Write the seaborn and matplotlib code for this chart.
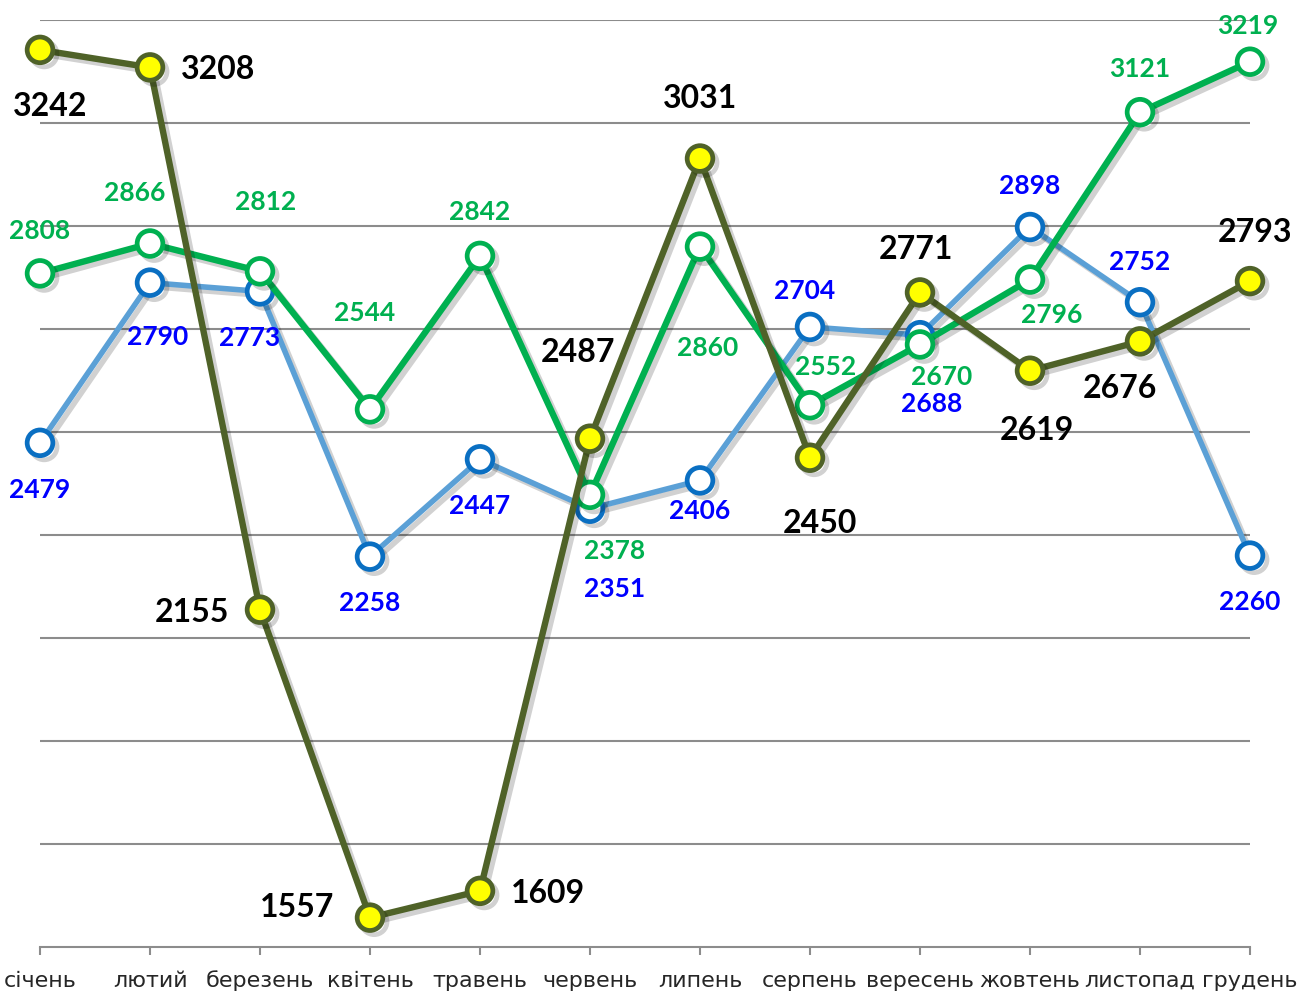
import matplotlib
matplotlib.use("Agg")
import matplotlib.pyplot as plt
import matplotlib.patheffects as pe
import seaborn as sns
import pandas as pd
import numpy as np

months = ["січень", "лютий", "березень", "квітень", "травень", "червень",
          "липень", "серпень", "вересень", "жовтень", "листопад", "грудень"]
blue_vals = [2479, 2790, 2773, 2258, 2447, 2351, 2406, 2704, 2688, 2898, 2752, 2260]
green_vals = [2808, 2866, 2812, 2544, 2842, 2378, 2860, 2552, 2670, 2796, 3121, 3219]
olive_vals = [3242, 3208, 2155, 1557, 1609, 2487, 3031, 2450, 2771, 2619, 2676, 2793]

# label offsets in pixels (dx, dy) relative to each point
blue_off = [(0, -47), (8, -54), (-10, -47), (0, -46), (0, -47), (25, -80), (0, -31), (-5, 36),
            (12, -69), (0, 41), (0, 40), (0, -46)]
green_off = [(0, 42), (-15, 51), (6, 69), (-5, 96), (0, 44), (25, -56), (8, -101), (16, 38),
             (22, -33), (22, -35), (0, 43), (-2, 36)]
olive_off = [(10, -57), (68, -2), (-68, -3), (-73, 10), (68, -3), (-12, 86), (0, 60), (10, -66),
             (-4, 43), (7, -60), (-20, -47), (5, 49)]

sns.set_theme(style="white")
plt.rcParams['font.family'] = ['Lato', 'DejaVu Sans']

fig = plt.figure(figsize=(13.08, 9.94), dpi=100)
ax = fig.add_axes([40 / 1308, 47 / 994, 1210 / 1308, 927 / 994])

x = np.arange(len(months))
shadow = [pe.SimpleLineShadow(offset=(3, -3), alpha=0.18, shadow_color="black"), pe.Normal()]

series = [
    (blue_vals, "#5BA0D6", "white", "#0A6FC2", "#0000FF", blue_off, 19, 4.0),
    (green_vals, "#00B050", "white", "#00B050", "#00B050", green_off, 19, 4.6),
    (olive_vals, "#4F6228", "#FFFF00", "#4F6228", "black", olive_off, 23, 4.6),
]

for vals, lc, mfc, mec, tc, offs, fs, lw in series:
    df = pd.DataFrame({"x": x, "y": vals})
    sns.lineplot(data=df, x="x", y="y", ax=ax, color=lc, linewidth=lw, marker="o",
                 markersize=18.5, markerfacecolor=mfc, markeredgecolor=mec,
                 markeredgewidth=3.4, sort=False, path_effects=shadow)
    for xi, v, (dx, dy) in zip(x, vals, offs):
        ax.annotate(str(v), (xi, v), xytext=(dx, dy), textcoords="offset pixels",
                    ha="center", va="center", fontsize=fs, fontweight="bold", color=tc,
                    zorder=10, annotation_clip=False)

for ln in ax.lines:
    ln.set_clip_on(False)

ax.set_xlim(0, 11)
ax.set_ylim(1500, 3300)
ax.set_yticks(np.arange(1700, 3301, 200))
ax.yaxis.grid(True, color="#8C8C8C", linewidth=1.5)
ax.set_axisbelow(True)
ax.tick_params(axis="y", left=False, labelleft=False)
ax.set_xticks(x)
ax.set_xticklabels(months, fontsize=16, family=['Liberation Sans Narrow', 'DejaVu Sans'])
ax.tick_params(axis="x", bottom=True, direction="out", length=6, width=1.5, color="#8C8C8C", pad=11)
ax.set_xlabel("")
ax.set_ylabel("")
for s in ["top", "left", "right"]:
    ax.spines[s].set_visible(False)
ax.spines["bottom"].set_color("#8C8C8C")
ax.spines["bottom"].set_linewidth(1.5)

fig.savefig("out.png", dpi=100)
